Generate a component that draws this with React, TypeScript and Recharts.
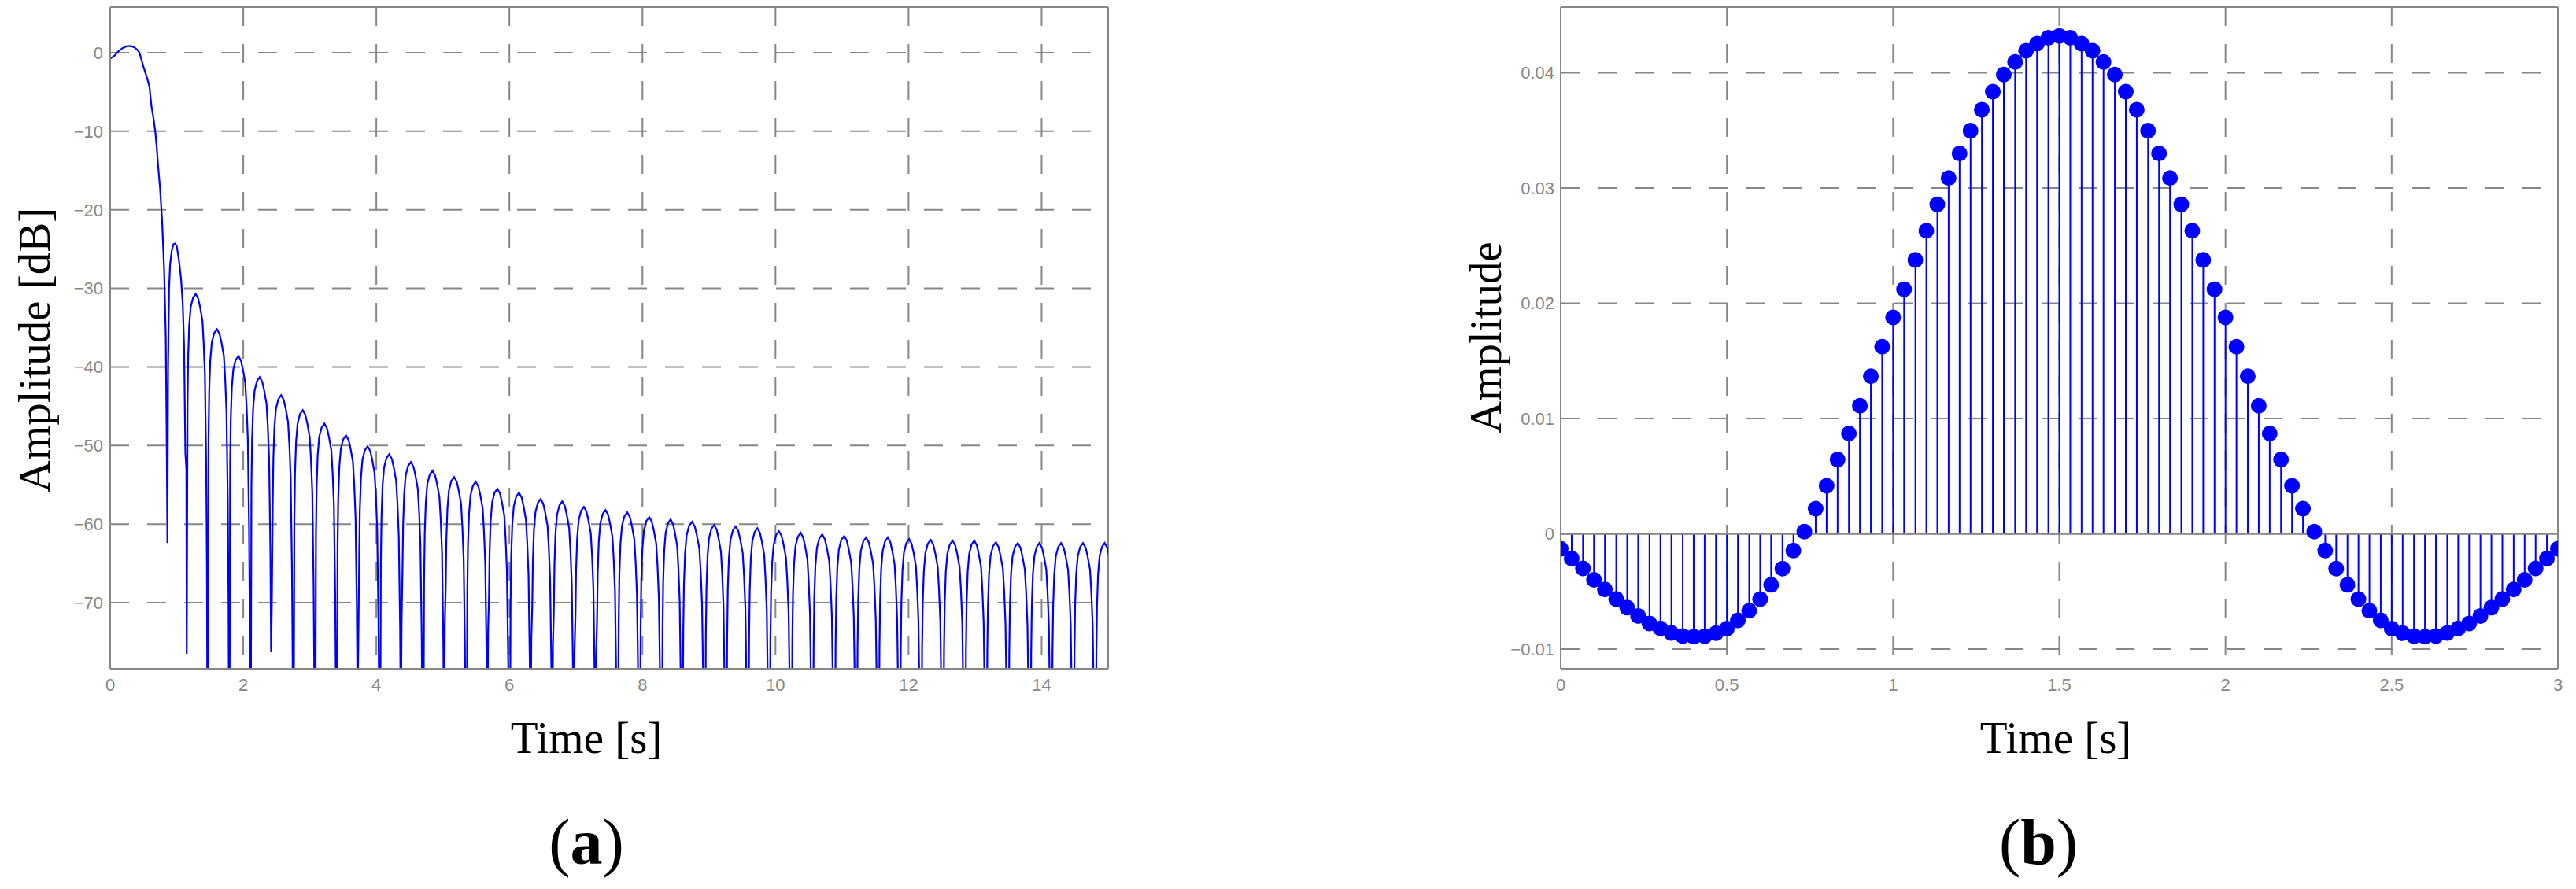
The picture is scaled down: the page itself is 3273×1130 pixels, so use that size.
import React from 'react';
import {
  LineChart,
  Line,
  XAxis,
  YAxis,
  CartesianGrid,
  ReferenceLine,
  ComposedChart,
  Bar,
  Scatter,
} from 'recharts';

const GRAY = '#878787';
const BLUE = '#0000ff';
const TICK_FONT = { fill: GRAY, fontSize: 22, fontFamily: 'Liberation Sans, Arial, sans-serif' };

// ---------- Panel (a): magnitude response in dB ----------
const dbXTicks = [0, 2, 4, 6, 8, 10, 12, 14];
const dbYTicks = [-70, -60, -50, -40, -30, -20, -10, 0];
const dbXDomain = [0, 15];
const dbYDomain = [-78.4, 5.8];

// main lobe
const mainLobeT = [0, 0.06, 0.12, 0.18, 0.24, 0.3, 0.36, 0.41, 0.44, 0.47, 0.5, 0.53, 0.56, 0.59, 0.62, 0.65, 0.68, 0.7, 0.72, 0.75, 0.78, 0.81, 0.835, 0.85, 0.86];
const mainLobeDb = [-0.77, -0.43, 0.15, 0.55, 0.8, 0.85, 0.7, 0.35, 0.0, -0.9, -1.8, -2.6, -3.4, -4.3, -6.8, -8.3, -10.2, -12.1, -14.4, -17.3, -21.4, -27.5, -36, -50, -62.4];

// first side lobe
const firstLobeT = [0.87, 0.885, 0.9, 0.925, 0.95, 0.975, 1.0, 1.035, 1.065, 1.09, 1.11, 1.13, 1.145];
const firstLobeDb = [-40, -30, -27, -25.2, -24.4, -24.3, -24.6, -26.5, -28.8, -31.9, -37.2, -51, -53];

// nulls between the following side lobes (time, lowest drawn level)
const nullT = [1.15, 1.465, 1.79, 2.11, 2.43, 2.755, 3.08, 3.405, 3.73, 4.055, 4.38, 4.705, 5.03, 5.355, 5.68, 6.005, 6.33, 6.655, 6.98, 7.305, 7.63, 7.96, 8.29, 8.6, 8.94, 9.26, 9.59, 9.91, 10.24, 10.56, 10.89, 11.22, 11.55, 11.87, 12.19, 12.52, 12.85, 13.17, 13.5, 13.83, 14.15, 14.48, 14.81, 15.13];
const nullDb = [-76.5, -100, -100, -100, -70, -100, -100, -100, -75, -100, -72.5, -100, -72.5, -100, -73.5, -100, -74.5, -75.5, -76, -76.5,
  -100, -100, -100, -100, -100, -100, -100, -100, -100, -100, -100, -100, -100, -100, -100, -100, -100, -100, -100, -100, -100, -100, -100, -100];

// peak level of side lobes 2..44
const lobePeakDb = [-30.7, -35.2, -38.6, -41.3, -43.6, -45.5, -47.2, -48.7, -50.1, -51.1, -52.1, -53.2, -54.0, -54.6, -55.5, -56.0, -56.8, -57.1, -57.8, -58.2, -58.5, -59.1, -59.4, -59.7, -60.1, -60.3, -60.5, -60.9, -61.1, -61.3, -61.5, -61.7, -61.7, -61.9, -62.0, -62.1, -62.1, -62.3, -62.4, -62.4, -62.4, -62.4, -62.4];

// shape of one side lobe: position between its nulls, dB below its peak
const lobeProfileFrac = [0.04, 0.07, 0.12, 0.19, 0.3, 0.43, 0.55, 0.64, 0.75, 0.81, 0.87, 0.93, 0.965];
const lobeProfileDrop = [14, 8, 4, 1.7, 0.5, 0, 0.6, 1.7, 3.4, 6.3, 10.4, 22, 35];

type DbRow = { t: number; db: number };
const dbRows: DbRow[] = [];
mainLobeT.forEach((t, i) => dbRows.push({ t, db: mainLobeDb[i] }));
firstLobeT.forEach((t, i) => dbRows.push({ t, db: firstLobeDb[i] }));
lobePeakDb.forEach((peak, i) => {
  const a = nullT[i];
  const b = nullT[i + 1];
  dbRows.push({ t: a, db: nullDb[i] });
  lobeProfileFrac.forEach((f, k) => dbRows.push({ t: a + f * (b - a), db: peak - lobeProfileDrop[k] }));
});
dbRows.push({ t: nullT[nullT.length - 1], db: nullDb[nullDb.length - 1] });

// ---------- Panel (b): impulse response stems ----------
const stemXTicks = [0, 0.5, 1, 1.5, 2, 2.5, 3];
const stemYTicks = [-0.01, 0, 0.01, 0.02, 0.03, 0.04];
const stemXDomain = [0, 3];
const stemYDomain = [-0.0117, 0.0457];

const stemT = [0, 0.033, 0.067, 0.1, 0.133, 0.167, 0.2, 0.233, 0.267, 0.3, 0.333, 0.367, 0.4, 0.433, 0.467, 0.5, 0.533, 0.567, 0.6, 0.633, 0.667, 0.7, 0.733, 0.767, 0.8, 0.833, 0.867, 0.9, 0.933, 0.967,
  1, 1.033, 1.067, 1.1, 1.133, 1.167, 1.2, 1.233, 1.267, 1.3, 1.333, 1.367, 1.4, 1.433, 1.467, 1.5, 1.533, 1.567, 1.6, 1.633, 1.667, 1.7, 1.733, 1.767, 1.8, 1.833, 1.867, 1.9, 1.933, 1.967,
  2, 2.033, 2.067, 2.1, 2.133, 2.167, 2.2, 2.233, 2.267, 2.3, 2.333, 2.367, 2.4, 2.433, 2.467, 2.5, 2.533, 2.567, 2.6, 2.633, 2.667, 2.7, 2.733, 2.767, 2.8, 2.833, 2.867, 2.9, 2.933, 2.967, 3];
const stemV = [-0.0013, -0.00214, -0.003, -0.00398, -0.00482, -0.00565, -0.0064, -0.00712, -0.00777, -0.0082, -0.0086, -0.00886, -0.00892, -0.00888, -0.00862, -0.00822, -0.0075, -0.00667, -0.00566, -0.00442, -0.00301, -0.00145,
  0.0002, 0.00219, 0.00417, 0.00645, 0.00871, 0.01111, 0.01367, 0.01623, 0.01878, 0.02122, 0.02377, 0.0263, 0.02858, 0.03087, 0.033, 0.03498, 0.0368, 0.03836, 0.03985, 0.04094, 0.04192, 0.04253, 0.04304,
  0.0432,
  0.04304, 0.04253, 0.04192, 0.04094, 0.03985, 0.03836, 0.0368, 0.03498, 0.033, 0.03087, 0.02858, 0.0263, 0.02377, 0.02122, 0.01878, 0.01623, 0.01367, 0.01111, 0.00871, 0.00645, 0.00417, 0.00219, 0.0002,
  -0.00145, -0.00301, -0.00442, -0.00566, -0.00667, -0.0075, -0.00822, -0.00862, -0.00888, -0.00892, -0.00886, -0.0086, -0.0082, -0.00777, -0.00712, -0.0064, -0.00565, -0.00482, -0.00398, -0.003, -0.00214, -0.0013];

const stemRows = stemT.map((t, i) => ({ t, v: stemV[i] }));

const fmt = (v: number) => (v < 0 ? '\u2212' + String(Math.abs(v)) : String(v));

const StemDot = (props: any) => <circle cx={props.cx} cy={props.cy} r={10} fill={BLUE} />;

const serif = 'Liberation Serif, Times New Roman, serif';

export default function App() {
  return (
    <div style={{ position: 'absolute', left: 0, top: 0, width: 3273, height: 1130, background: '#ffffff', overflow: 'hidden' }}>
      <div style={{ position: 'absolute', left: 0, top: 0 }}>
        <LineChart width={1420} height={1000} data={dbRows} margin={{ top: 9, right: 12, bottom: 0, left: 0 }}>
          <CartesianGrid stroke={GRAY} strokeWidth={2} strokeDasharray="24 23" />
          <XAxis
            dataKey="t"
            type="number"
            domain={dbXDomain}
            ticks={dbXTicks}
            allowDataOverflow
            height={150}
            tickLine={false}
            tickSize={0}
            tickMargin={12}
            tick={TICK_FONT}
            axisLine={{ stroke: GRAY, strokeWidth: 2 }}
          />
          <YAxis
            type="number"
            domain={dbYDomain}
            ticks={dbYTicks}
            allowDataOverflow
            width={140}
            tickLine={false}
            tickSize={0}
            tickMargin={9}
            tick={TICK_FONT}
            tickFormatter={fmt}
            axisLine={{ stroke: GRAY, strokeWidth: 2 }}
          />
          <ReferenceLine y={dbYDomain[1]} stroke={GRAY} strokeWidth={2} />
          <ReferenceLine x={dbXDomain[1]} stroke={GRAY} strokeWidth={2} />
          <Line dataKey="db" type="linear" stroke={BLUE} strokeWidth={2.2} dot={false} isAnimationActive={false} />
        </LineChart>
      </div>

      <div style={{ position: 'absolute', left: 1843, top: 0 }}>
        <ComposedChart width={1419} height={1000} data={stemRows} margin={{ top: 9, right: 12, bottom: 0, left: 0 }}>
          <CartesianGrid stroke={GRAY} strokeWidth={2} strokeDasharray="24 23" />
          <XAxis
            dataKey="t"
            type="number"
            domain={stemXDomain}
            ticks={stemXTicks}
            allowDataOverflow
            height={150}
            tickLine={false}
            tickSize={0}
            tickMargin={12}
            tick={TICK_FONT}
            axisLine={{ stroke: GRAY, strokeWidth: 2 }}
          />
          <YAxis
            type="number"
            domain={stemYDomain}
            ticks={stemYTicks}
            allowDataOverflow
            width={140}
            tickLine={false}
            tickSize={0}
            tickMargin={8}
            tick={TICK_FONT}
            tickFormatter={fmt}
            axisLine={{ stroke: GRAY, strokeWidth: 2 }}
          />
          <Bar dataKey="v" barSize={2} fill={BLUE} isAnimationActive={false} />
          <ReferenceLine y={0} stroke={GRAY} strokeWidth={2.5} />
          <ReferenceLine y={stemYDomain[1]} stroke={GRAY} strokeWidth={2} />
          <ReferenceLine x={stemXDomain[1]} stroke={GRAY} strokeWidth={2} />
          <Scatter data={stemRows} dataKey="v" shape={StemDot} isAnimationActive={false} />
        </ComposedChart>
      </div>

      <svg width={3273} height={1130} style={{ position: 'absolute', left: 0, top: 0, pointerEvents: 'none' }}>
        <g fontFamily={serif} fill="#000">
          <text x={745} y={957} fontSize={57} textAnchor="middle">Time [s]</text>
          <text transform="translate(63,445) rotate(-90)" fontSize={57} textAnchor="middle">Amplitude [dB]</text>
          <text x={745} y={1098} fontSize={82} textAnchor="middle">
            (<tspan fontWeight="bold">a</tspan>)
          </text>
          <text x={2612} y={957} fontSize={57} textAnchor="middle">Time [s]</text>
          <text transform="translate(1907,429) rotate(-90)" fontSize={57} textAnchor="middle">Amplitude</text>
          <text x={2590} y={1098} fontSize={82} textAnchor="middle">
            (<tspan fontWeight="bold">b</tspan>)
          </text>
        </g>
      </svg>
    </div>
  );
}
